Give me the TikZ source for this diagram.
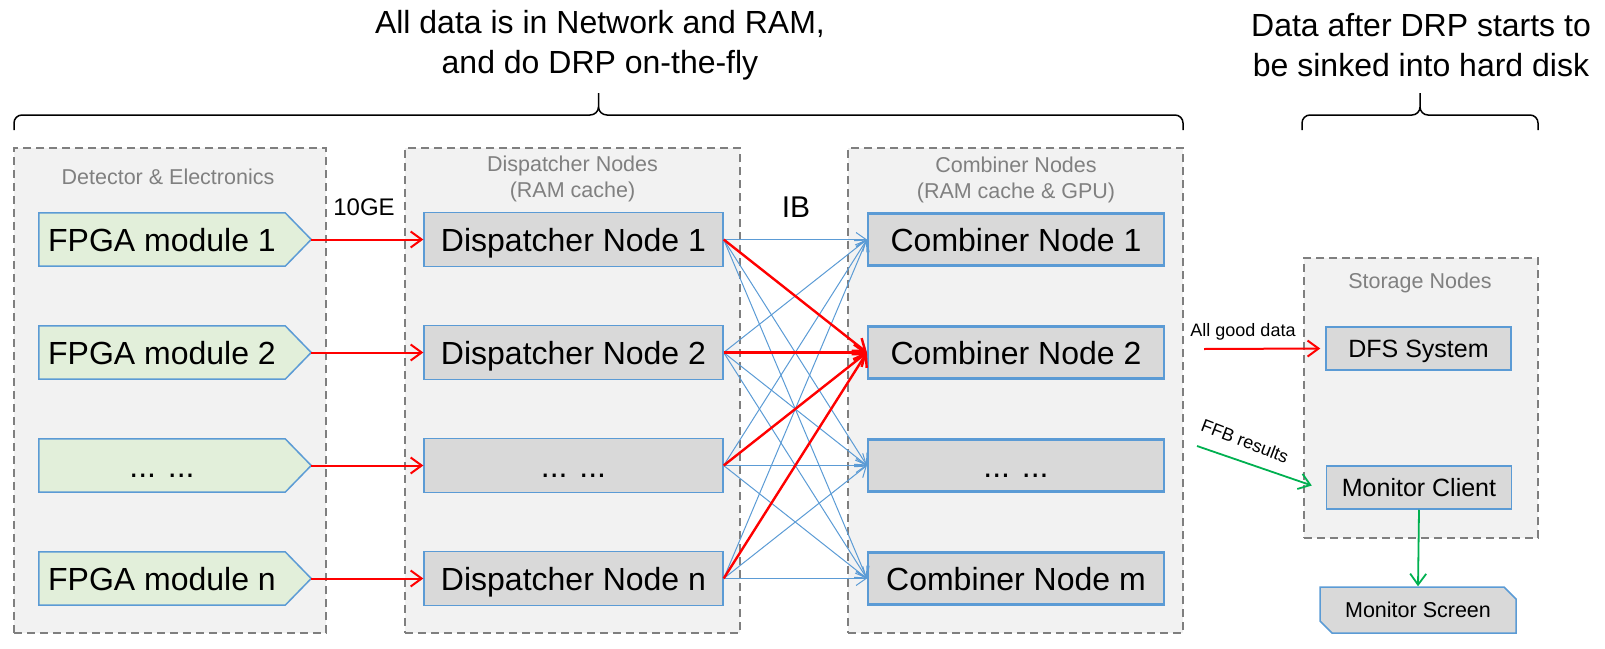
\documentclass[tikz,border=0pt]{standalone}
\usepackage{fontspec}
\setmainfont{Liberation Sans}
\usetikzlibrary{arrows.meta,shapes.misc,calc}
\definecolor{grpfill}{HTML}{F2F2F2}
\definecolor{grpline}{HTML}{7F7F7F}
\definecolor{grptext}{HTML}{808080}
\definecolor{nodeblue}{HTML}{5B9BD5}
\definecolor{fpgafill}{HTML}{E2EFDA}
\definecolor{boxfill}{HTML}{D9D9D9}
\definecolor{myred}{HTML}{FF0000}
\definecolor{mygreen}{HTML}{00B050}
\newcommand{\mydots}{.\kern0pt.\kern0pt. .\kern0pt.\kern0pt.}
\pgfdeclarelayer{bg}
\pgfdeclarelayer{mid}
\pgfsetlayers{bg,mid,main}
\begin{document}
\begin{tikzpicture}[x=1pt,y=-1pt,
  group/.style={draw=grpline,fill=grpfill,line width=1.8pt,dash pattern=on 8pt off 5pt,rectangle,inner sep=0pt},
  grplabel/.style={text=grptext,align=center,font=\fontsize{21.5}{26}\selectfont},
  title/.style={align=center,font=\fontsize{32}{40}\selectfont},
  bigtxt/.style={font=\fontsize{32}{38}\selectfont,text height=23pt,text depth=0pt},
  fpga/.style={rectangle,inner sep=0pt,minimum width=246pt,minimum height=53pt,bigtxt},
  fpgashape/.style={draw=nodeblue,fill=fpgafill,line width=1.5pt,line join=miter},
  dnode/.style={rectangle,draw=nodeblue,fill=boxfill,line width=1.3pt,inner sep=0pt,minimum width=299pt,minimum height=54pt,bigtxt},
  cnode/.style={rectangle,draw=nodeblue,fill=boxfill,line width=2.2pt,inner sep=0pt,minimum width=296pt,minimum height=52pt,bigtxt},
  snode/.style={rectangle,draw=nodeblue,fill=boxfill,line width=1.5pt,inner sep=0pt,minimum width=185pt,minimum height=43pt,font=\fontsize{25}{30}\selectfont,text height=18pt,text depth=0pt},
  scrnode/.style={chamfered rectangle,chamfered rectangle corners={north east,south west},chamfered rectangle xsep=6pt,chamfered rectangle ysep=6pt,draw=nodeblue,fill=boxfill,line width=1.5pt,inner sep=0pt,minimum width=196pt,minimum height=46pt,font=\fontsize{21.5}{26}\selectfont,text height=15.4pt,text depth=0pt},
  redarrow/.style={draw=myred,line width=2pt,-{Straight Barb[length=11pt,width=16pt]}},
  ibred/.style={draw=myred,line width=2.4pt,-{Straight Barb[length=11pt,width=16pt]}},
  ibblue/.style={draw=nodeblue,line width=1pt,-{Straight Barb[length=10pt,width=14pt]}},
  greenarrow/.style={draw=mygreen,line width=1.8pt,-{Straight Barb[length=11pt,width=16pt]}},
  brace/.style={draw=black,line width=1.5pt},
  lbl/.style={inner sep=0pt}
]
\useasboundingbox (0,0) rectangle (1605,648);

% groups
\begin{pgfonlayer}{bg}
\node[group,minimum width=312pt,minimum height=485pt] (gdet) at (170,390.5) {};
\node[group,minimum width=335pt,minimum height=485pt] (gdis) at (572.5,390.5) {};
\node[group,minimum width=335pt,minimum height=485pt] (gcom) at (1015.5,390.5) {};
\node[group,minimum width=234pt,minimum height=280pt] (gsto) at (1421,398) {};
\end{pgfonlayer}

\node[grplabel] (ldet) at (168,177) {Detector \& Electronics};
\node[grplabel] (ldis) at (572.5,179) {Dispatcher Nodes\\(RAM cache)};
\node[grplabel] (lcom) at (1016,180) {Combiner Nodes\\(RAM cache \& GPU)};
\node[grplabel] (lsto) at (1420,283) {Storage Nodes};

% titles and braces
\node[title] (t1) at (600,45) {All data is in Network and RAM,\\and do DRP on-the-fly};
\node[title] (t2) at (1421,45) {Data after DRP starts to\\be sinked into hard disk};
\draw[brace] (14,130) -- (14,123) to[out=90,in=180] (22,115) -- (590,115) to[out=0,in=-90] (598.5,107) -- (598.5,93);
\draw[brace] (598.5,107) to[out=-90,in=180] (607,115) -- (1175,115) to[out=0,in=90] (1183,123) -- (1183,130);
\draw[brace] (1302,130) -- (1302,123) to[out=90,in=180] (1310,115) -- (1412,115) to[out=0,in=-90] (1420,107) -- (1420,93);
\draw[brace] (1420,107) to[out=-90,in=180] (1428,115) -- (1530,115) to[out=0,in=90] (1538,123) -- (1538,130);

% rows
\foreach \i/\y/\fl/\dl/\cl in {1/239.5/FPGA module 1/Dispatcher Node 1/Combiner Node 1,
                               2/352.5/FPGA module 2/Dispatcher Node 2/Combiner Node 2,
                               3/465.5/\mydots/\mydots/\mydots,
                               4/578.5/FPGA module n/Dispatcher Node n/Combiner Node m}{
  \node[fpga] (f\i) at (162,\y) {\fl};
  \coordinate (ft\i) at ($(f\i.east)+(26,0)$);
  \begin{pgfonlayer}{mid}
    \path[fpgashape] (f\i.north west) -- (f\i.north east) -- (ft\i) -- (f\i.south east) -- (f\i.south west) -- cycle;
  \end{pgfonlayer}
  \node[dnode] (d\i) at (573.5,\y) {\dl};
  \node[cnode] (c\i) at (1016,\y) {\cl};
}

\node[lbl,font=\fontsize{24}{28}\selectfont] (l10ge) at (364,207) {10GE};
\node[lbl,font=\fontsize{30}{34}\selectfont] (lib) at (796,207) {IB};

\foreach \i in {1,2,3,4}{
  \draw[redarrow] (ft\i) -- (d\i.west);
}
\foreach \i in {1,2,3,4}{
  \foreach \j in {1,2,3,4}{
    \draw[ibblue] (d\i.east) -- (c\j.west);
  }
}
\foreach \i in {1,2,3,4}{
  \draw[ibred] (d\i.east) -- (c2.west);
}

% storage side
\node[snode] (dfs) at (1418.5,348.5) {DFS System};
\node[snode] (mc) at (1419,487.5) {Monitor Client};
\node[scrnode] (ms) at (1418,610) {Monitor Screen};

\coordinate (agd) at (1204,349);
\draw[redarrow] (agd) -- ([xshift=-5pt]dfs.west);
\node[lbl,font=\fontsize{18}{22}\selectfont] (lagd) at (1243,332) {All good data};

\coordinate (ffb) at (1197,446);
\draw[greenarrow] (ffb) -- ([xshift=-14pt,yshift=2pt]mc.west);
\node[lbl,font=\fontsize{18}{22}\selectfont,rotate=-21] (lffb) at (1245,441) {FFB results};

\draw[greenarrow] (mc.south) -- (ms.north);
\end{tikzpicture}
\end{document}
